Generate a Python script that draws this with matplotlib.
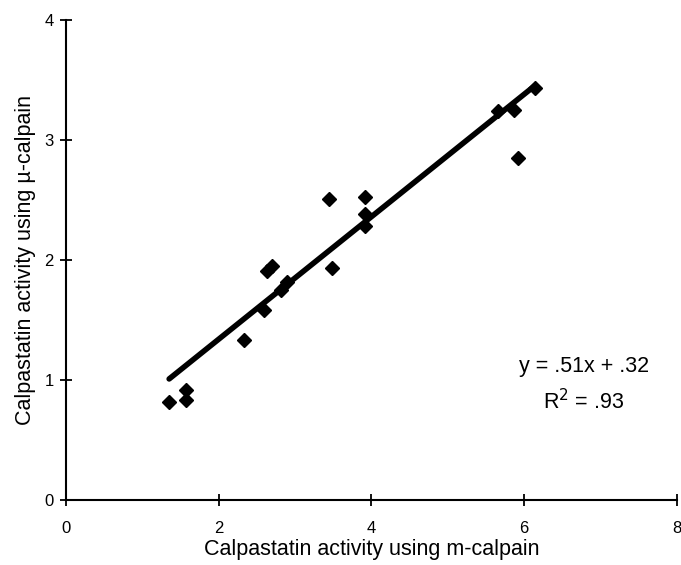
import matplotlib
matplotlib.use('Agg')
import matplotlib.pyplot as plt

plt.rcParams['font.family'] = ['Liberation Sans', 'DejaVu Sans']

# data
m_calpain = [1.35, 1.57, 1.57, 2.33, 2.59, 2.63, 2.70, 2.81, 2.90, 3.45, 3.48,
             3.92, 3.92, 3.92, 5.66, 5.86, 5.92, 6.14]
mu_calpain = [0.82, 0.92, 0.83, 1.33, 1.58, 1.91, 1.95, 1.75, 1.82, 2.51, 1.93,
              2.52, 2.38, 2.28, 3.24, 3.25, 2.85, 3.43]
slope = 0.51
intercept = 0.32
x_ticks = [0, 2, 4, 6, 8]
y_ticks = [0, 1, 2, 3, 4]

fig = plt.figure(figsize=(6.81, 5.65), dpi=100)
ax = fig.add_axes([0.097, 0.115, 0.897, 0.85])

ax.plot(m_calpain, mu_calpain, linestyle='none', marker='D', markersize=7,
        color='black', zorder=3)

x0, x1 = min(m_calpain), max(m_calpain)
ax.plot([x0, x1], [slope * x0 + intercept, slope * x1 + intercept],
        color='black', linewidth=4, solid_capstyle='round', zorder=2)

ax.set_xlim(0, 8)
ax.set_ylim(0, 4)
ax.set_xticks(x_ticks)
ax.set_yticks(y_ticks)
ax.tick_params(direction='inout', length=8, width=1.3, labelsize=12)
ax.tick_params(axis='x', pad=11)
ax.tick_params(axis='y', pad=5)

for side in ['top', 'right']:
    ax.spines[side].set_visible(False)
for side in ['left', 'bottom']:
    ax.spines[side].set_linewidth(1.5)

ax.set_xlabel('Calpastatin activity using m-calpain', fontsize=15.5, labelpad=2)
ax.set_ylabel('Calpastatin activity using µ-calpain', fontsize=15.5, labelpad=6)

ax.text(6.78, 1.11, 'y = .51x + .32', ha='center', va='center', fontsize=15.5)
ax.text(6.78, 0.82, 'R$^2$ = .93', ha='center', va='center', fontsize=15.5)

fig.savefig('out.png', dpi=100)
